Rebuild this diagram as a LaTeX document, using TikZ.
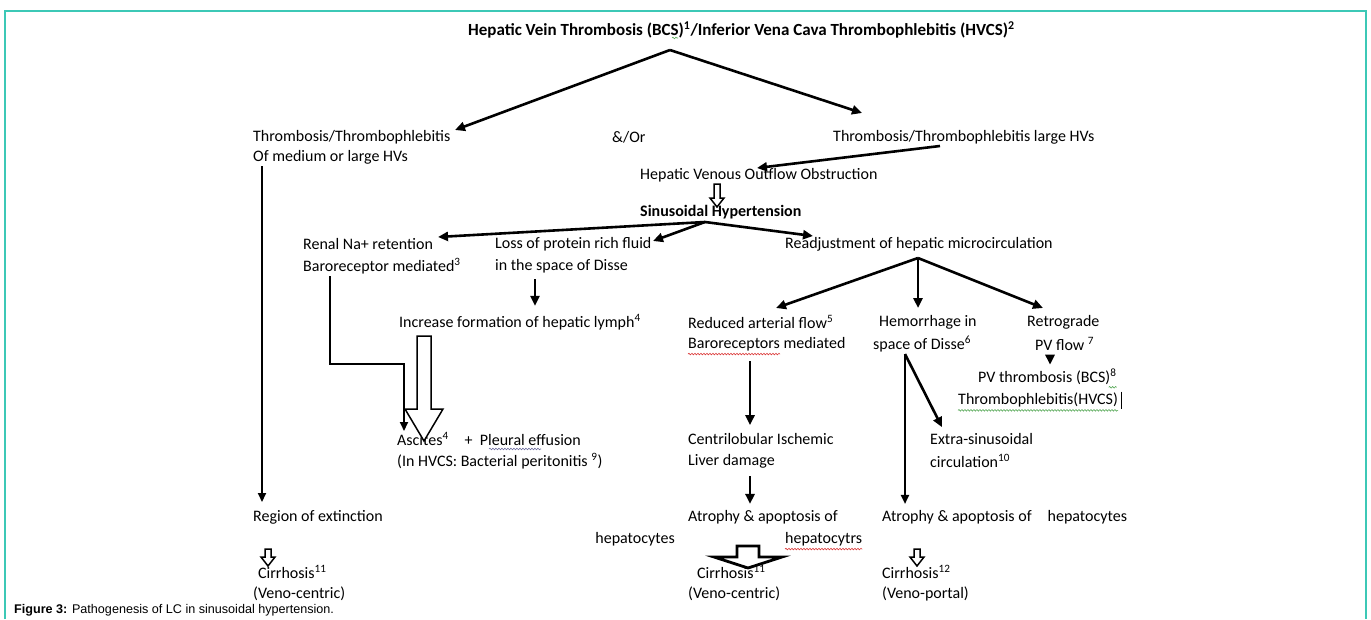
\documentclass[tikz,border=0pt]{standalone}
\usepackage{fontspec}
\setmainfont{Carlito}
\newfontfamily\capfont{Liberation Sans}
\usetikzlibrary{arrows.meta,calc,decorations.pathmorphing}
\definecolor{framecol}{RGB}{60,200,182}
\definecolor{squigred}{RGB}{220,60,60}
\definecolor{squiggreen}{RGB}{90,170,90}
\definecolor{squigblue}{RGB}{110,110,160}
\tikzset{
  txt/.style={anchor=west,inner sep=0pt,font=\fontsize{16}{22}\selectfont},
  btxt/.style={txt,font=\fontsize{16}{22}\selectfont\bfseries},
  arr/.style={line width=2.6pt,-{Triangle[length=10pt,width=9pt]}},
  tarr/.style={line width=2pt,-{Triangle[length=9pt,width=8pt]}},
  hollowarr/.style={draw=black,line width=1.5pt,fill=white,line join=miter},
  squig/.style={decorate,decoration={snake,amplitude=0.8pt,segment length=3pt},line width=0.6pt}
}
% block arrow: [#1 extra style] #2 x centre, #3 y top, #4 y tip, #5 half shaft, #6 half head, #7 head length
\newcommand{\blockarrowdown}[7][]{%
  \draw[hollowarr,#1] (#2-#5,#3) -- (#2+#5,#3) -- (#2+#5,#4-#7) -- (#2+#6,#4-#7) -- (#2,#4)
    -- (#2-#6,#4-#7) -- (#2-#5,#4-#7) -- cycle;}
\begin{document}
\begin{tikzpicture}[x=1pt,y=-1pt]
\useasboundingbox (0,0) rectangle (1371,619);
\fill[white] (0,0) rectangle (1371,619);
\draw[framecol,line width=1.6pt] (5,619) -- (5,11) -- (1366,11) -- (1366,619);

% texts
\node[btxt,font=\fontsize{17}{22}\selectfont\bfseries] (title) at (468,30) {Hepatic Vein Thrombosis (BCS)\textsuperscript{1}/Inferior Vena Cava Thrombophlebitis (HVCS)\textsuperscript{2}};
\node[txt] (tt1) at (253,137) {Thrombosis/Thrombophlebitis};
\node[txt] (tt1b) at (253,157) {Of medium or large HVs};
\node[txt] (andor) at (612,137) {\&/Or};
\node[txt] (tt2) at (833,137) {Thrombosis/Thrombophlebitis large HVs};
\node[txt] (hvoo) at (640,175) {Hepatic Venous Outflow Obstruction};
\node[btxt] (sh) at (640,212) {Sinusoidal Hypertension};
\node[txt] (renal1) at (303,244) {Renal Na+ retention};
\node[txt] (renal2) at (303,266) {Baroreceptor mediated\textsuperscript{3}};
\node[txt] (loss1) at (495,244) {Loss of protein rich fluid};
\node[txt] (loss2) at (495,266) {in the space of Disse};
\node[txt] (readj) at (785,244) {Readjustment of hepatic microcirculation};
\node[txt] (incr) at (399,322) {Increase formation of hepatic lymph\textsuperscript{4}};
\node[txt] (red1) at (688,322) {Reduced arterial flow\textsuperscript{5}};
\node[txt] (red2) at (688,344) {Baroreceptors mediated};
\node[txt] (hem1) at (879,322) {Hemorrhage in};
\node[txt] (hem2) at (873,344) {space of Disse\textsuperscript{6}};
\node[txt] (ret1) at (1027,322) {Retrograde};
\node[txt] (ret2) at (1035,344) {PV flow \textsuperscript{7}};
\node[txt] (pvt1) at (978,377) {PV thrombosis (BCS)\textsuperscript{8}};
\node[txt] (pvt2) at (958,400) {Thrombophlebitis(HVCS)};
\node[txt] (asc1) at (397,439) {Ascites\textsuperscript{4}\quad+\ \ Pleural effusion};
\node[txt] (asc2) at (397,461) {(In HVCS: Bacterial peritonitis \textsuperscript{9})};
\node[txt] (cen1) at (688,439) {Centrilobular Ischemic};
\node[txt] (cen2) at (688,461) {Liver damage};
\node[txt] (ext1) at (930,439) {Extra-sinusoidal};
\node[txt] (ext2) at (930,461) {circulation\textsuperscript{10}};
\node[txt] (reg) at (253,517) {Region of extinction};
\node[txt] (atr1) at (688,517) {Atrophy \& apoptosis of};
\node[txt,anchor=east] (hepL) at (675,539) {hepatocytes};
\node[txt] (hepR) at (785,539) {hepatocytrs};
\node[txt] (atr2) at (882,517) {Atrophy \& apoptosis of\quad hepatocytes};
\node[txt] (cir1) at (258,572) {Cirrhosis\textsuperscript{11}};
\node[txt] (vc1) at (253,594) {(Veno-centric)};
\node[txt] (cir2) at (697,572) {Cirrhosis\textsuperscript{11}};
\node[txt] (vc2) at (688,594) {(Veno-centric)};
\node[txt] (cir3) at (882,572) {Cirrhosis\textsuperscript{12}};
\node[txt] (vp) at (882,594) {(Veno-portal)};
\node[anchor=west,inner sep=0pt,font=\capfont\fontsize{12.6}{14}\selectfont] (cap) at (14,610) {\textbf{Figure 3:} Pathogenesis of LC in sinusoidal hypertension.};

% cursor bar
\draw[line width=1.2pt] ($(pvt2.north east)+(3,-1)$) -- ($(pvt2.south east)+(3,2)$);

% squiggles
\draw[squig,squigred] ($(red2.south west)+(0,3)$) -- ++(92,0);
\draw[squig,squigred] ($(hepR.south west)+(0,3)$) -- ($(hepR.south east)+(0,3)$);
\draw[squig,squiggreen] ($(pvt2.south west)+(0,3)$) -- ($(pvt2.south east)+(0,3)$);
\draw[squig,squigblue] ($(asc1.south west)+(92,3)$) -- ++(52,0);
\draw[squig,squiggreen] ($(pvt1.south east)+(-8,2)$) -- ++(8,0);
\draw[squig,squiggreen] (672,38) -- ++(6,0);

% coordinates for connector ends
\coordinate (apex1) at (670,50);
\coordinate (tip1) at (455,130);
\coordinate (tip2) at (862,113);
\coordinate (s2a) at (940,146);
\coordinate (t2a) at (757,168);
\coordinate (apex2) at (705,222);
\coordinate (tipR) at (438,237);
\coordinate (tipL) at (653,241);
\coordinate (tipA) at (813,236);
\coordinate (lonetop) at (262,166);
\coordinate (lonebot) at (262,502);
\coordinate (rtop) at (330,276);
\coordinate (rc1) at (330,364);
\coordinate (rc2) at (404,364);
\coordinate (rend) at (404,431);
\coordinate (apex3) at (918,258);
\coordinate (tRed) at (776,308);
\coordinate (tHem) at (918,308);
\coordinate (tRet) at (1043,308);
\coordinate (hemtop) at (905,354);

% connectors
\draw[arr] (apex1) -- (tip1);
\draw[arr] (apex1) -- (tip2);
\draw[arr] (s2a) -- (t2a);
\draw[arr] (apex2) -- (tipR);
\draw[arr] (apex2) -- (tipL);
\draw[arr] (apex2) -- (tipA);
\draw[tarr] (lonetop) -- (lonebot);
\draw[tarr,line join=miter] (rtop) -- (rc1) -- (rc2) -- (rend);
\draw[arr] ($(loss2.south west)+(40,6)$) -- ($(incr.north west)+(136,-8)$);
\draw[arr] (apex3) -- (tRed);
\draw[arr] (apex3) -- (tHem);
\draw[arr] (apex3) -- (tRet);
\draw[arr] ($(ret2.south west)+(15,5)$) -- ($(pvt1.north west)+(72,-4)$);
\draw[arr] ($(red2.south west)+(62,10)$) -- ($(cen1.north west)+(62,-8)$);
\draw[tarr] (hemtop) -- ($(atr2.north west)+(23,-6)$);
\draw[arr] (hemtop) -- ($(ext1.north west)+(12,-6)$);
\draw[arr] ($(cen2.south west)+(62,8)$) -- ($(atr1.north west)+(62,-6)$);

% hollow block arrows
\blockarrowdown{717}{184}{207}{3}{7}{9}
\blockarrowdown{424}{336}{441}{7}{19}{32}
\blockarrowdown{268}{549}{566}{3}{7}{9}
\blockarrowdown{917}{549}{566}{3}{7}{9}
\blockarrowdown[line width=2.8pt]{748}{546}{568}{11}{34}{11}
\end{tikzpicture}
\end{document}
